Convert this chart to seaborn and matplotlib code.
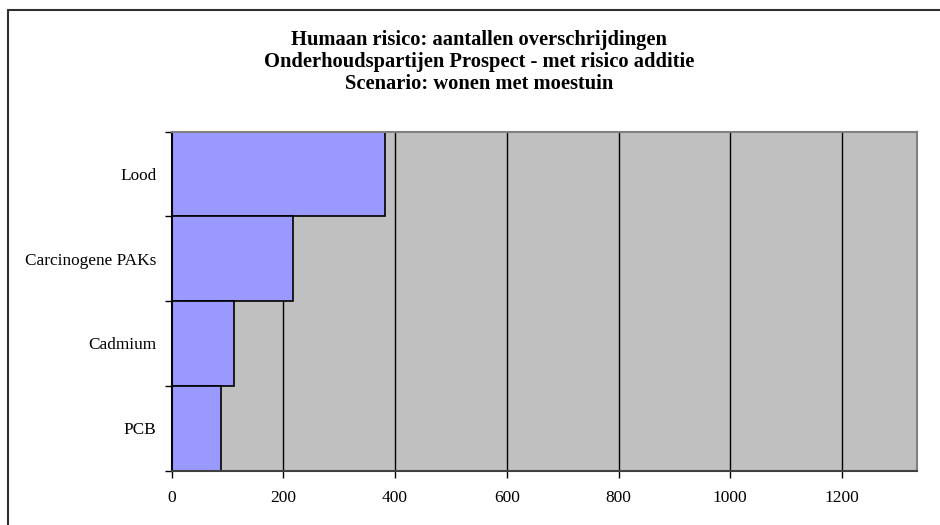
import matplotlib
matplotlib.use("Agg")
import matplotlib.pyplot as plt
import seaborn as sns
import pandas as pd
from matplotlib.lines import Line2D
from matplotlib.ticker import FixedLocator

categories = ["Lood", "Carcinogene PAKs", "Cadmium", "PCB"]
values = [382, 218, 111, 88]
xticks = [0, 200, 400, 600, 800, 1000, 1200]
title_lines = ["Humaan risico: aantallen overschrijdingen",
               "Onderhoudspartijen Prospect - met risico additie",
               "Scenario: wonen met moestuin"]

sns.set_theme(style="white")
plt.rcParams['font.family'] = ['Liberation Serif', 'DejaVu Serif']
plt.rcParams['text.color'] = 'black'
plt.rcParams['xtick.color'] = 'black'
plt.rcParams['ytick.color'] = 'black'

df = pd.DataFrame({"stof": categories, "aantal": values})

fig = plt.figure(figsize=(9.4, 5.25), dpi=100)
fig.patch.set_facecolor("white")
ax = fig.add_axes([171.7/940, 1-470.5/525, (917.3-171.7)/940, (470.5-131.7)/525])
ax.set_facecolor("#C0C0C0")

sns.barplot(data=df, y="stof", x="aantal", order=categories, orient="h",
            color="#9999FF", saturation=1, width=1.0, edgecolor="black",
            linewidth=1.2, ax=ax, zorder=3)

ax.set_xlim(0, 1335)
ax.set_ylim(len(categories)-0.5, -0.5)
ax.set_xticks(xticks)
ax.set_xticklabels([str(t) for t in xticks], fontsize=12.5, color="black")
ax.xaxis.grid(True, color="black", linewidth=1.0, zorder=1)
ax.set_axisbelow(True)
ax.tick_params(axis="x", which="major", direction="out", length=5, width=1,
               color="black", labelcolor="black", pad=9, bottom=True)
ax.tick_params(axis="y", which="major", length=0, pad=11, labelsize=12.4,
               labelcolor="black")
ax.yaxis.set_minor_locator(FixedLocator([i - 0.5 for i in range(len(categories)+1)]))
ax.tick_params(axis="y", which="minor", direction="out", length=5, width=1,
               color="black", left=True)
ax.set_xlabel("")
ax.set_ylabel("")

for side in ["top", "right"]:
    ax.spines[side].set_color("#808080")
    ax.spines[side].set_linewidth(1.5)
ax.spines["left"].set_color("black")
ax.spines["left"].set_linewidth(1.5)
ax.spines["bottom"].set_color("#404040")
ax.spines["bottom"].set_linewidth(1.5)
for s in ax.spines.values():
    s.set_zorder(5)

fig.text(479/940, 1-62/525, "\n".join(title_lines), ha="center", va="center",
         fontsize=14.8, fontweight="bold", linespacing=1.15, color="black")

fig.add_artist(Line2D([8/940, 8/940], [0, 1-10/525], color="#303030", linewidth=1.5,
                      transform=fig.transFigure))
fig.add_artist(Line2D([8/940, 1], [1-10/525, 1-10/525], color="#303030", linewidth=1.5,
                      transform=fig.transFigure))

fig.savefig("out.png", dpi=100)
